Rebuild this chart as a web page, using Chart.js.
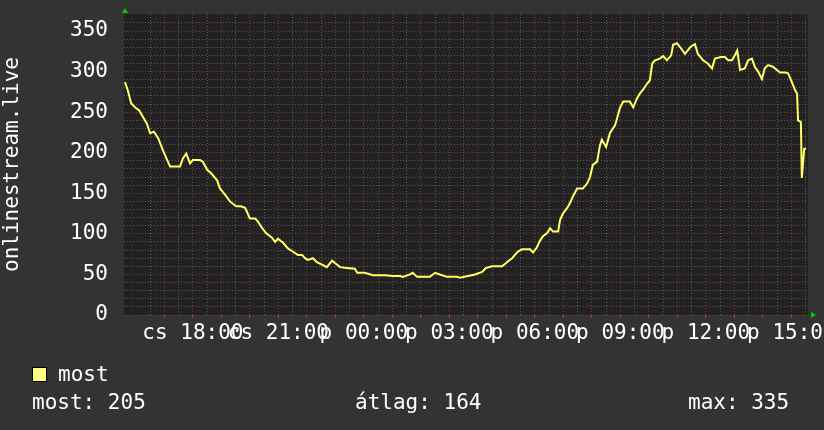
<!DOCTYPE html>
<html>
<head>
<meta charset="utf-8">
<script src="https://cdn.jsdelivr.net/npm/chart.js@4"></script>
<style>
    html, body { margin: 0; padding: 0; background: #333333; overflow: hidden; }
    #wrap { position: relative; width: 824px; height: 430px; overflow: hidden; background: #333333; }
    #chart { position: absolute; left: 0; top: 0; }
    .txt { position: absolute; color: #ffffff; font-family: "DejaVu Sans Mono", monospace; font-size: 21px; white-space: pre; line-height: 24px; }
    .swatch { position: absolute; left: 32px; top: 367px; width: 13px; height: 13px; background: #ffff80; border: 1px solid #000; }
</style>
</head>
<body>
<div id="wrap">
    <canvas id="chart" width="880" height="430"></canvas>
    <div class="swatch"></div>
    <div class="txt" id="seriesName" style="left:58px; top:362px;"></div>
    <div class="txt" id="stat0" style="left:32px; top:390px;"></div>
    <div class="txt" id="stat1" style="left:355px; top:390px;"></div>
    <div class="txt" id="stat2" style="left:688px; top:390px;"></div>
</div>
<script>
// ===================================
// onlinestream.live - 24h listener graph
// ===================================

// minutes after 15:35 (cs) and the value read at that moment
const minutes = [
    2, 8, 15, 23, 32, 40, 48, 55, 63, 72, 82, 91, 97, 118, 124, 131, 139, 145, 160, 166,
    175, 183, 196, 202, 213, 223, 236, 246, 255, 265, 276, 282, 291, 299, 312, 318, 324, 335, 345, 356,
    366, 375, 381, 387, 398, 406, 417, 427, 438, 444, 455, 469, 486, 491, 507, 524, 549, 566, 581, 587,
    602, 608, 617, 644, 655, 665, 680, 701, 707, 724, 739, 754, 762, 775, 796, 802, 808, 817, 823, 829,
    838, 855, 861, 869, 876, 882, 891, 897, 903, 914, 918, 924, 933, 939, 945, 954, 966, 975, 981, 987,
    996, 1002, 1006, 1015, 1023, 1034, 1044, 1051, 1065, 1072, 1080, 1086, 1093, 1101, 1107, 1112, 1118, 1128, 1135, 1143,
    1152, 1156, 1164, 1171, 1181, 1192, 1202, 1208, 1219, 1229, 1238, 1244, 1257, 1265, 1272, 1280, 1286, 1291, 1297, 1307,
    1314, 1322, 1328, 1335, 1343, 1349, 1356, 1366, 1381, 1392, 1398, 1406, 1413, 1417, 1419, 1425, 1427, 1432, 1436
];
const values = [
    287, 277, 261, 256, 252, 244, 236, 224, 226, 218, 203, 191, 183, 183, 193, 199, 187, 191, 191, 189,
    179, 175, 166, 156, 148, 140, 134, 134, 132, 119, 119, 115, 107, 101, 95, 90, 94, 89, 82, 78,
    74, 74, 70, 68, 70, 65, 62, 59, 67, 64, 59, 58, 57, 52, 52, 49, 49, 48, 48, 47,
    50, 52, 47, 47, 52, 50, 47, 47, 46, 48, 50, 53, 58, 60, 60, 63, 66, 70, 74, 78,
    81, 81, 77, 83, 92, 97, 101, 107, 103, 103, 117, 125, 132, 138, 146, 156, 156, 162, 170, 185,
    189, 209, 216, 207, 224, 234, 255, 263, 263, 256, 267, 273, 278, 285, 289, 310, 314, 316, 319, 314,
    320, 333, 335, 330, 322, 330, 334, 322, 314, 310, 304, 316, 318, 318, 314, 314, 320, 326, 302, 304,
    314, 316, 306, 300, 291, 304, 308, 306, 299, 299, 298, 287, 277, 273, 240, 238, 169, 205, 205
];

const seriesName = 'most';
const startClock = 15 * 60 + 35;   // 15:35
const spanMinutes = 24 * 60;

const xLabelMinutes = [145, 325, 505, 685, 865, 1045, 1225, 1405];
const xLabels = ['cs 18:00', 'cs 21:00', 'p 00:00', 'p 03:00', 'p 06:00', 'p 09:00', 'p 12:00', 'p 15:00'];

const yMax = 371;
const yLabelStep = 50;

const statNames = ['most', 'átlag', 'max'];
const statValues = [205, 164, 335];

const FONT = '"DejaVu Sans Mono", monospace';
const MINOR = 'rgba(110, 110, 110, 0.75)';
const MAJOR = 'rgba(150, 60, 60, 0.85)';

// legend text
document.getElementById('seriesName').textContent = seriesName;
statNames.forEach((name, i) => {
    document.getElementById('stat' + i).textContent = name + ': ' + statValues[i];
});

const rrdFrame = {
    id: 'rrdFrame',
    beforeDraw(chart) {
        const { ctx, chartArea: a } = chart;
        ctx.save();
        ctx.fillStyle = '#222222';
        ctx.fillRect(a.left, a.top, a.right - a.left, a.bottom - a.top);
        ctx.restore();
    },
    afterDraw(chart) {
        const { ctx, chartArea: a } = chart;
        ctx.save();
        ctx.fillStyle = '#00cc00';
        // arrow on top of the value axis
        ctx.beginPath();
        ctx.moveTo(a.left - 2, a.top - 1);
        ctx.lineTo(a.left + 4, a.top - 1);
        ctx.lineTo(a.left + 1, a.top - 6);
        ctx.closePath();
        ctx.fill();
        // arrow at the end of the time axis
        ctx.beginPath();
        ctx.moveTo(a.right + 3, a.bottom - 3);
        ctx.lineTo(a.right + 3, a.bottom + 3);
        ctx.lineTo(a.right + 8, a.bottom);
        ctx.closePath();
        ctx.fill();
        ctx.restore();
    }
};

const isHour = m => (m + startClock) % 60 === 0;

new Chart(document.getElementById('chart'), {
    type: 'line',
    data: {
        datasets: [{
            label: seriesName,
            data: minutes.map((m, i) => ({ x: m, y: values[i] })),
            borderColor: '#ffff66',
            borderWidth: 2,
            pointRadius: 0,
            stepped: false,
            fill: false
        }]
    },
    options: {
        responsive: false,
        animation: false,
        layout: {
            padding: { left: 0, top: 14, right: 72, bottom: 85 }
        },
        plugins: {
            legend: { display: false },
            tooltip: { enabled: false }
        },
        scales: {
            x: {
                type: 'linear',
                min: 0,
                max: spanMinutes,
                afterBuildTicks: scale => {
                    const ticks = [];
                    for (let m = 60 - (startClock % 30 === 0 ? 30 : startClock % 30); m <= spanMinutes; m += 30) {
                        ticks.push({ value: m });
                    }
                    scale.ticks = ticks;
                },
                afterFit: scale => { scale.height = 30; },
                ticks: {
                    autoSkip: false,
                    maxRotation: 0,
                    minRotation: 0,
                    padding: 3,
                    color: '#ffffff',
                    font: { family: FONT, size: 21 },
                    callback: value => {
                        const i = xLabelMinutes.indexOf(value);
                        return i >= 0 ? xLabels[i] : '';
                    }
                },
                grid: {
                    color: ctx => (ctx.tick && isHour(ctx.tick.value)) ? MAJOR : MINOR,
                    lineWidth: 1,
                    drawTicks: true,
                    tickLength: 3,
                    tickColor: ctx => (ctx.tick && isHour(ctx.tick.value)) ? '#a04040' : 'rgba(0,0,0,0)'
                },
                border: { display: false, dash: [1, 2] }
            },
            y: {
                min: 0,
                max: yMax,
                afterBuildTicks: scale => {
                    scale.ticks = scale.ticks.filter(t => t.value % 10 === 0);
                },
                afterFit: scale => {
                    scale.width = 124;
                    scale.paddingTop = 0;
                    scale.paddingBottom = 0;
                },
                ticks: {
                    autoSkip: false,
                    stepSize: 10,
                    padding: 16,
                    color: '#ffffff',
                    font: { family: FONT, size: 21 },
                    callback: value => value % yLabelStep === 0 ? String(value) : ''
                },
                grid: {
                    color: ctx => (ctx.tick && ctx.tick.value % yLabelStep === 0) ? MAJOR : MINOR,
                    lineWidth: 1,
                    drawTicks: false
                },
                border: { display: false, dash: [1, 2] },
                title: {
                    display: true,
                    text: 'onlinestream.live',
                    color: '#ffffff',
                    font: { family: FONT, size: 21 },
                    padding: { top: 0, bottom: 0 }
                }
            }
        }
    },
    plugins: [rrdFrame]
});
</script>
</body>
</html>
